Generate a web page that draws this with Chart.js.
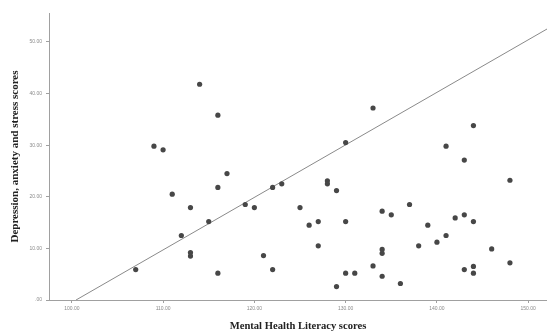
<!DOCTYPE html>
<html>
<head>
<meta charset="utf-8">
<script src="https://cdn.jsdelivr.net/npm/chart.js@4"></script>
<style>
    html, body { margin: 0; padding: 0; background: #fff; }
    #box { width: 547px; height: 331px; }
</style>
</head>
<body>
<div id="box"><canvas id="scatterGraph"></canvas></div>
<script>
// Mental health literacy score for each respondent
const literacyScores = [
    114, 116, 109, 110, 117, 116, 111, 113, 119, 120,
    122, 123, 125, 115, 112, 113, 113, 121, 122, 107,
    116, 133, 130, 144, 141, 143, 148, 128, 128, 129,
    126, 127, 130, 127, 134, 135, 137, 139, 142, 143,
    144, 141, 140, 138, 146, 134, 134, 133, 130, 131,
    134, 129, 136, 143, 144, 144, 148
];

// Depression, anxiety and stress score for the same respondents
const dassScores = [
    41.8, 35.8, 29.8, 29.1, 24.5, 21.8, 20.5, 17.9, 18.5, 17.9,
    21.8, 22.5, 17.9, 15.2, 12.5, 9.2, 8.5, 8.6, 5.9, 5.9,
    5.2, 37.2, 30.5, 33.8, 29.8, 27.1, 23.2, 23.1, 22.5, 21.2,
    14.5, 15.2, 15.2, 10.5, 17.2, 16.5, 18.5, 14.5, 15.9, 16.5,
    15.2, 12.5, 11.2, 10.5, 9.9, 9.8, 9.05, 6.6, 5.2, 5.2,
    4.6, 2.6, 3.2, 5.9, 6.5, 5.2, 7.2
];

// fitted line end points
const lineX = [100.46, 152.06];
const lineY = [0, 52.5];

const xTicks = [100, 110, 120, 130, 140, 150];
const yTicks = [0, 10, 20, 30, 40, 50];

function spssLabel(value) {
    const text = Number(value).toFixed(2);
    return text.startsWith("0.") ? text.slice(1) : text;
}

const points = literacyScores.map((x, i) => ({ x: x, y: dassScores[i] }));
const fitLine = lineX.map((x, i) => ({ x: x, y: lineY[i] }));

const scatterGraph = document.getElementById("scatterGraph");

new Chart(scatterGraph, {
    type: "scatter",
    data: {
        datasets: [{
            label: "Scores",
            data: points,
            backgroundColor: "#474747",
            borderColor: "#474747",
            borderWidth: 0,
            pointRadius: 2.6,
            pointStyle: "circle"
        }, {
            type: "line",
            label: "Fit",
            data: fitLine,
            borderColor: "#8a8a8a",
            borderWidth: 1,
            pointRadius: 0,
            fill: false
        }]
    },
    options: {
        responsive: true,
        maintainAspectRatio: false,
        animation: false,
        layout: {
            autoPadding: false,
            padding: { top: 13, right: 0, bottom: 0, left: 0 }
        },
        plugins: {
            legend: { display: false },
            tooltip: { enabled: false }
        },
        scales: {
            x: {
                type: "linear",
                min: 97.5,
                max: 152.06,
                afterBuildTicks: axis => { axis.ticks = xTicks.map(v => ({ value: v })); },
                afterFit: axis => {
                    axis.height = 31;
                    axis.paddingLeft = 0;
                    axis.paddingRight = 0;
                },
                grid: { drawOnChartArea: false, tickLength: 3, color: "#a0a0a0" },
                border: { color: "#a0a0a0", width: 1 },
                ticks: {
                    callback: spssLabel,
                    font: { family: "Liberation Sans", size: 5 },
                    color: "#8a8a8a",
                    padding: 3,
                    maxRotation: 0
                },
                title: {
                    display: true,
                    text: "Mental Health Literacy scores",
                    font: { family: "Liberation Serif", size: 10.6, weight: "bold", lineHeight: 1 },
                    color: "#222",
                    padding: { top: 0, bottom: -1 }
                }
            },
            y: {
                min: 0,
                max: 55.6,
                afterBuildTicks: axis => { axis.ticks = yTicks.map(v => ({ value: v })); },
                afterFit: axis => {
                    axis.width = 49;
                    axis.paddingTop = 0;
                    axis.paddingBottom = 0;
                },
                grid: { drawOnChartArea: false, tickLength: 3, color: "#a0a0a0" },
                border: { color: "#a0a0a0", width: 1 },
                ticks: {
                    callback: spssLabel,
                    font: { family: "Liberation Sans", size: 5 },
                    color: "#8a8a8a",
                    padding: 4
                },
                title: {
                    display: true,
                    text: "Depression, anxiety and stress scores",
                    font: { family: "Liberation Serif", size: 11, weight: "bold", lineHeight: 1 },
                    color: "#222",
                    padding: { top: 9.5, bottom: 0 }
                }
            }
        }
    }
});
</script>
</body>
</html>
